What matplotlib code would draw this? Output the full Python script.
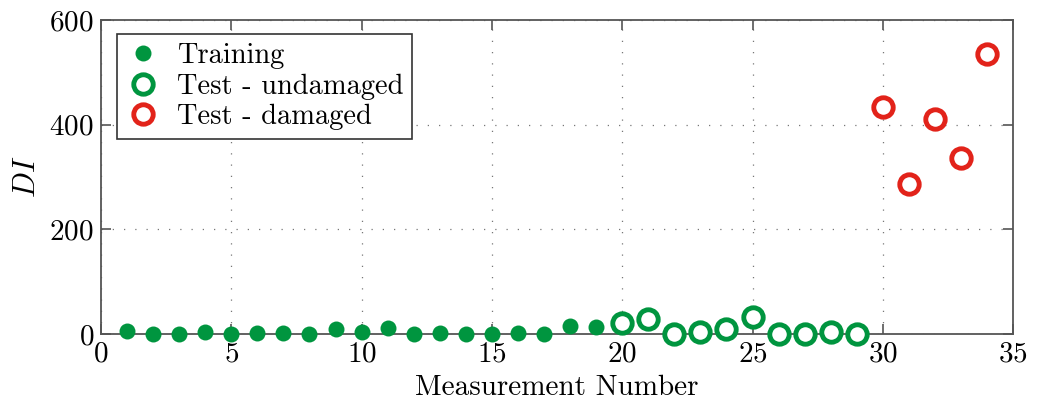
import numpy as np
import matplotlib
matplotlib.use("Agg")
import matplotlib.pyplot as plt

plt.rcParams['font.family'] = 'serif'
plt.rcParams['font.serif'] = ['cmr10']
plt.rcParams['mathtext.fontset'] = 'cm'
plt.rcParams['axes.formatter.use_mathtext'] = True

# data
train_x = list(range(1, 20))
train_y = [6, 1, 0, 5, 0, 2, 2, 0, 9, 5, 12, 0, 3, 0, 1, 2, 1, 16, 13]
undam_x = list(range(20, 30))
undam_y = [22, 29, 0, 4, 9, 33, 0, 0, 5, 0]
dam_x = [30, 31, 32, 33, 34]
dam_y = [434, 287, 410, 336, 536]

green = '#00953f'
red = '#e2231a'

fig = plt.figure(figsize=(10.37, 4.08), dpi=100)
ax = fig.add_axes([0.0974, 0.181, 0.8796, 0.77])

ax.plot(train_x, train_y, 'o', color=green, ms=11.5, mew=0, label='Training',
        zorder=4, clip_on=False)
ax.plot(undam_x, undam_y, 'o', mfc='white', mec=green, ms=14, mew=3.5,
        label='Test - undamaged', zorder=4, clip_on=False)
ax.plot(dam_x, dam_y, 'o', mfc='white', mec=red, ms=14, mew=3.5,
        label='Test - damaged', zorder=4, clip_on=False)

ax.set_xlim(0, 35)
ax.set_ylim(0, 600)
ax.set_xticks(range(0, 36, 5))
ax.set_yticks(range(0, 601, 200))
ax.grid(True, linestyle=(0, (1, 8)), color='#777777', linewidth=0.9)
ax.tick_params(direction='in', top=True, right=True, labelsize=21,
               length=7, color='#555555', width=1.2, pad=5)
for s in ax.spines.values():
    s.set_color('#555555')
    s.set_linewidth(1.3)

ax.set_xlabel('Measurement Number', fontsize=21, labelpad=5)
ax.set_ylabel('$DI$', fontsize=22, labelpad=6)

leg = ax.legend(loc='upper left', fontsize=20.5, fancybox=False, framealpha=1,
                edgecolor='#333333', handletextpad=0.6, borderpad=0.3,
                labelspacing=0.15, handlelength=1.2, borderaxespad=0.5,
                bbox_to_anchor=(0.002, 1.0))
leg.get_frame().set_linewidth(1.2)

fig.savefig('out.png', dpi=100)
